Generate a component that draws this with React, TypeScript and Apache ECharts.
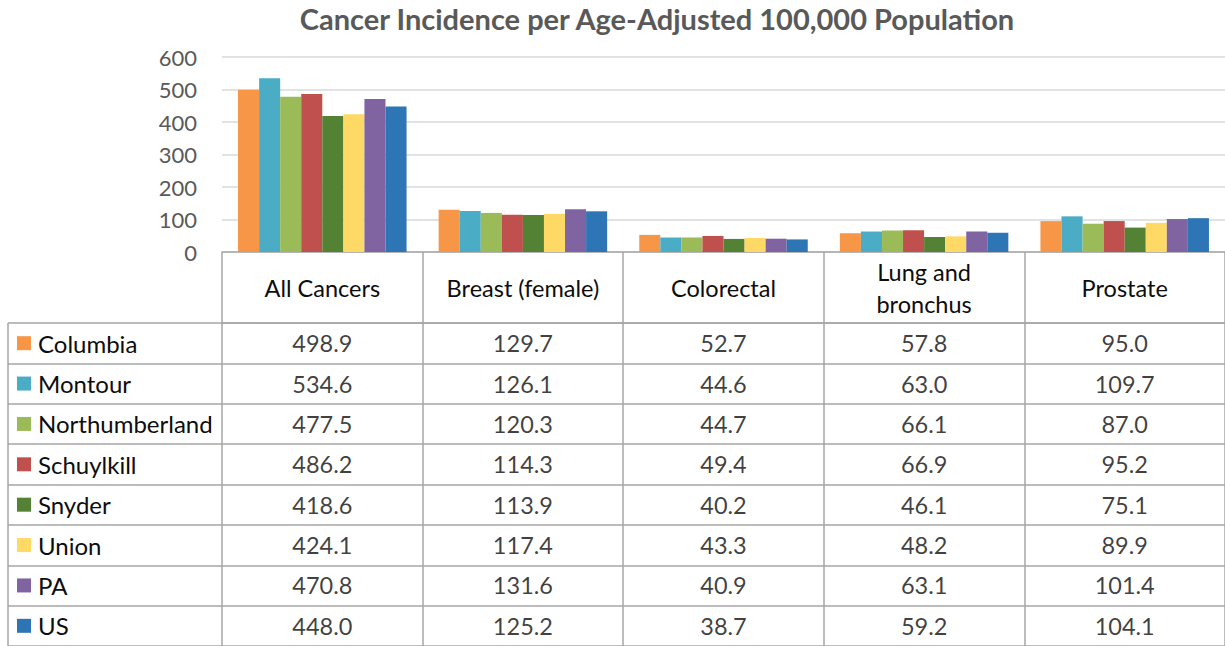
import React, { useEffect, useRef } from "react";
import * as echarts from "echarts";

const title = "Cancer Incidence per Age-Adjusted 100,000 Population";
const categories = ["All Cancers", "Breast (female)", "Colorectal", "Lung and\nbronchus", "Prostate"];
const seriesNames = ["Columbia", "Montour", "Northumberland", "Schuylkill", "Snyder", "Union", "PA", "US"];
const colors = ["#F79646", "#4BACC6", "#9BBB59", "#C0504D", "#548235", "#FFD966", "#8064A2", "#2E75B6"];

const columbia = [498.9, 129.7, 52.7, 57.8, 95.0];
const montour = [534.6, 126.1, 44.6, 63.0, 109.7];
const northumberland = [477.5, 120.3, 44.7, 66.1, 87.0];
const schuylkill = [486.2, 114.3, 49.4, 66.9, 95.2];
const snyder = [418.6, 113.9, 40.2, 46.1, 75.1];
const union = [424.1, 117.4, 43.3, 48.2, 89.9];
const pa = [470.8, 131.6, 40.9, 63.1, 101.4];
const us = [448.0, 125.2, 38.7, 59.2, 104.1];

const seriesValues = [columbia, montour, northumberland, schuylkill, snyder, union, pa, us];

const yMin = 0;
const yMax = 600;
const yInterval = 100;

const FONT = "Lato";
const LINE = "#a6a6a6";
const TXT = "#0d0d0d";

export default function App() {
  const ref = useRef<HTMLDivElement>(null);

  useEffect(() => {
    if (!ref.current) return;
    const chart = echarts.init(ref.current, null, { renderer: "svg" });

    const rich: Record<string, any> = {
      n: { fontSize: 24, fontFamily: FONT, color: TXT, padding: [0, 0, 0, 7] },
    };
    colors.forEach((c, i) => {
      rich["k" + i] = { width: 14, height: 14, backgroundColor: c };
    });

    const tableData: number[][] = [];
    seriesValues.forEach((vals, r) => {
      vals.forEach((v, c) => tableData.push([c, r, v]));
    });

    const option: any = {
      animation: false,
      backgroundColor: "#ffffff",
      textStyle: { fontFamily: FONT },
      grid: [
        { left: 222, top: 57, width: 1006, height: 195 },
        { left: 222, top: 323, width: 1006, height: 325.6 },
      ],
      xAxis: [
        {
          type: "category",
          gridIndex: 0,
          data: categories,
          axisLine: { show: true, lineStyle: { color: LINE, width: 1.5 } },
          axisTick: { show: true, length: 394, lineStyle: { color: LINE, width: 1.5 } },
          axisLabel: {
            interval: 0,
            fontSize: 23.5,
            fontFamily: FONT,
            color: TXT,
            margin: 36,
            verticalAlign: "middle",
            lineHeight: 32,
          },
          splitLine: { show: false },
        },
        {
          type: "category",
          gridIndex: 1,
          position: "top",
          data: categories,
          axisLine: { show: true, lineStyle: { color: LINE, width: 1.5 } },
          axisTick: { show: false },
          axisLabel: { show: false },
          splitLine: { show: false },
        },
      ],
      yAxis: [
        {
          type: "value",
          gridIndex: 0,
          min: yMin,
          max: yMax,
          interval: yInterval,
          axisLine: { show: false },
          axisTick: { show: false },
          axisLabel: { fontSize: 22, fontFamily: FONT, color: "#595959", margin: 25 },
          splitLine: { show: true, lineStyle: { color: "#d9d9d9", width: 1.5 } },
        },
        {
          type: "category",
          gridIndex: 1,
          inverse: true,
          data: seriesNames,
          axisLine: { show: false },
          axisTick: { show: true, length: 214, lineStyle: { color: LINE, width: 1.5 } },
          splitLine: { show: true, lineStyle: { color: LINE, width: 1.5 } },
          axisLabel: {
            interval: 0,
            align: "left",
            margin: 205,
            formatter: (value: string, index: number) => `{k${index}|}{n|${value}}`,
            rich,
          },
        },
      ],
      series: [
        ...seriesNames.map((name, i) => ({
          type: "bar",
          name,
          xAxisIndex: 0,
          yAxisIndex: 0,
          data: seriesValues[i],
          itemStyle: { color: colors[i] },
          barGap: "0%",
          barCategoryGap: "16%",
        })),
        {
          type: "scatter",
          xAxisIndex: 1,
          yAxisIndex: 1,
          data: tableData,
          symbolSize: 1,
          itemStyle: { color: "rgba(0,0,0,0)" },
          label: {
            show: true,
            position: "inside",
            formatter: (p: any) => Number(p.value[2]).toFixed(1),
            fontSize: 23.5,
            fontFamily: FONT,
            color: TXT,
          },
          silent: true,
        },
      ],
      graphic: [
        {
          type: "text",
          x: 657,
          y: 18,
          style: {
            text: title,
            align: "center",
            verticalAlign: "middle",
            fontSize: 29,
            fontWeight: "bold",
            fontFamily: FONT,
            fill: "#595959",
          },
        },
        {
          type: "line",
          shape: { x1: 8, y1: 323, x2: 8, y2: 650 },
          style: { stroke: LINE, lineWidth: 1.5 },
        },
      ],
    };

    chart.setOption(option);
    return () => chart.dispose();
  }, []);

  return (
    <div
      ref={ref}
      style={{ position: "fixed", left: 0, top: 0, width: 1225, height: 646, background: "#fff" }}
    />
  );
}
